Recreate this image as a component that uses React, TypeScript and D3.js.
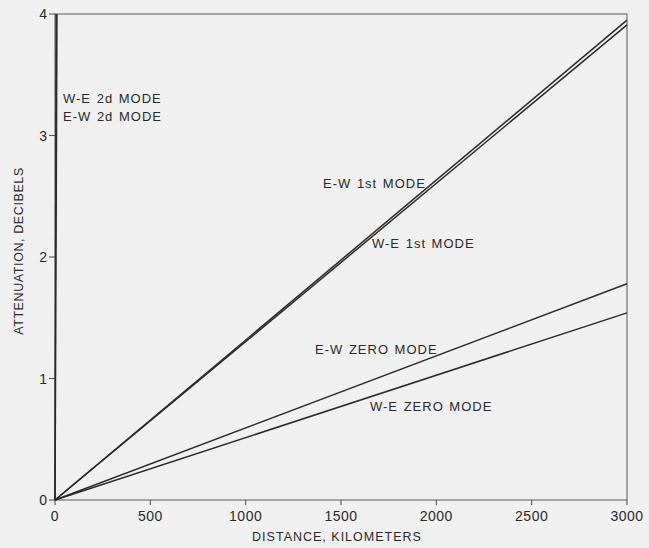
import React from "react";
import * as d3 from "d3";

const xTicks = [0, 500, 1000, 1500, 2000, 2500, 3000];
const yTicks = [0, 1, 2, 3, 4];

const seriesNames = ["W-E 2d MODE", "E-W 2d MODE", "E-W 1st MODE", "W-E 1st MODE", "E-W ZERO MODE", "W-E ZERO MODE"];
const seriesDistance = [
  [0, 10],
  [0, 5],
  [0, 3000],
  [0, 3000],
  [0, 3000],
  [0, 3000],
];
const seriesAttenuation = [
  [0, 4],
  [0, 4],
  [0, 3.95],
  [0, 3.91],
  [0, 1.78],
  [0, 1.54],
];
const seriesWidth = [1.6, 1.2, 1.5, 1.5, 1.5, 1.5];

const labelPos = [
  { x: 63, y: 103 },
  { x: 63, y: 121 },
  { x: 323, y: 188 },
  { x: 372, y: 248 },
  { x: 315, y: 354 },
  { x: 370, y: 411 },
];

const W = 649;
const H = 548;

export default function App() {
  const x = d3.scaleLinear().domain([0, 3000]).range([55, 627]);
  const y = d3.scaleLinear().domain([0, 4]).range([500, 14]);
  const line = d3
    .line<[number, number]>()
    .x((d) => x(d[0]))
    .y((d) => y(d[1]));
  const font = "'Liberation Sans', Arial, sans-serif";
  const ink = "#2a2a2a";
  return (
    <svg
      width={W}
      height={H}
      style={{ position: "absolute", left: 0, top: 0, background: "#f0f0f0" }}
    >
      <rect x={0} y={0} width={W} height={H} fill="#f0f0f0" />
      {/* frame */}
      <rect
        x={x(0)}
        y={y(4)}
        width={x(3000) - x(0)}
        height={y(0) - y(4)}
        fill="none"
        stroke="#666"
        strokeWidth={1.1}
      />
      {/* x ticks */}
      {xTicks.map((t) => (
        <g key={"xt" + t}>
          <line x1={x(t)} x2={x(t)} y1={y(0)} y2={y(0) + 5} stroke="#555" strokeWidth={1.1} />
          <text
            x={x(t)}
            y={521}
            textAnchor="middle"
            fontFamily={font}
            fontSize={14}
            fill={ink}
            letterSpacing={0.5}
          >
            {t}
          </text>
        </g>
      ))}
      {/* y ticks */}
      {yTicks.map((t) => (
        <g key={"yt" + t}>
          <line x1={x(0) - 6} x2={x(0)} y1={y(t)} y2={y(t)} stroke="#555" strokeWidth={1.1} />
          <text
            x={x(0) - 8}
            y={y(t) + 5}
            textAnchor="end"
            fontFamily={font}
            fontSize={14}
            fill={ink}
          >
            {t}
          </text>
        </g>
      ))}
      {/* axis titles */}
      <text
        x={337}
        y={541}
        textAnchor="middle"
        fontFamily={font}
        fontSize={12.5}
        fill={ink}
        letterSpacing={1}
      >
        DISTANCE, KILOMETERS
      </text>
      <text
        transform={`translate(23, 251) rotate(-90)`}
        textAnchor="middle"
        fontFamily={font}
        fontSize={12.5}
        fill={ink}
        letterSpacing={0.6}
      >
        ATTENUATION, DECIBELS
      </text>
      {/* series */}
      {seriesNames.map((name, i) => {
        const pts: [number, number][] = seriesDistance[i].map((d, j) => [d, seriesAttenuation[i][j]]);
        return (
          <path
            key={"s" + i}
            d={line(pts) || ""}
            fill="none"
            stroke={ink}
            strokeWidth={seriesWidth[i]}
          />
        );
      })}
      {/* labels */}
      {seriesNames.map((name, i) => (
        <text
          key={"l" + i}
          x={labelPos[i].x}
          y={labelPos[i].y}
          fontFamily={font}
          fontSize={13}
          fill={ink}
          letterSpacing={1.0}
          wordSpacing={1}
        >
          {name}
        </text>
      ))}
    </svg>
  );
}
